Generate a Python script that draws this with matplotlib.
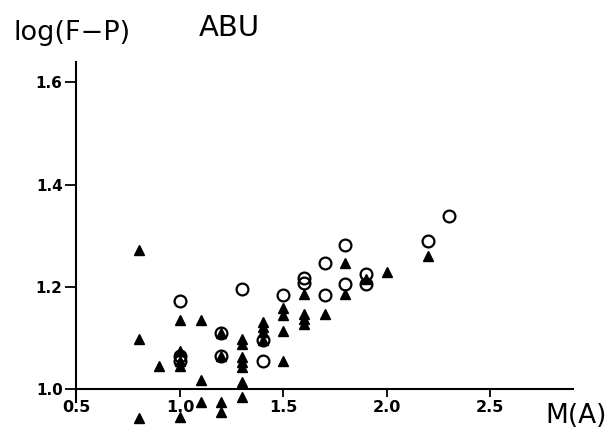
import matplotlib
matplotlib.use("Agg")
import matplotlib.pyplot as plt

# open circles
circ_m = [1.0, 1.0, 1.0, 1.2, 1.2, 1.3, 1.4, 1.4, 1.5, 1.6, 1.6, 1.7, 1.7, 1.8, 1.8, 1.9, 1.9, 2.2, 2.3]
circ_v = [1.172, 1.065, 1.055, 1.11, 1.065, 1.197, 1.096, 1.055, 1.184, 1.217, 1.208, 1.246, 1.184, 1.282, 1.205, 1.226, 1.205, 1.29, 1.339]

# filled triangles
tri_m = [0.8, 0.8, 0.8, 0.9, 1.0, 1.0, 1.0, 1.0, 1.0, 1.1, 1.1, 1.1, 1.2, 1.2, 1.2, 1.2,
         1.3, 1.3, 1.3, 1.3, 1.3, 1.3, 1.3, 1.4, 1.4, 1.4, 1.4, 1.5, 1.5, 1.5, 1.5,
         1.6, 1.6, 1.6, 1.6, 1.7, 1.8, 1.8, 1.9, 2.0, 2.2]
tri_v = [1.273, 1.099, 0.943, 1.045, 1.135, 1.075, 1.055, 1.045, 0.945, 1.135, 1.018, 0.975, 1.11, 1.065, 0.975, 0.956,
         1.099, 1.089, 1.063, 1.053, 1.044, 1.014, 0.985, 1.132, 1.122, 1.112, 1.096, 1.158, 1.145, 1.114, 1.055,
         1.186, 1.148, 1.138, 1.128, 1.148, 1.246, 1.186, 1.215, 1.23, 1.26]

xticks = [0.5, 1.0, 1.5, 2.0, 2.5]
xticklabels = ["0.5", "1.0", "1.5", "2.0", "2.5"]
yticks = [1.0, 1.2, 1.4, 1.6]
yticklabels = ["1.0", "1.2", "1.4", "1.6"]

fig = plt.figure(figsize=(6.09, 4.41), dpi=100)
ax = fig.add_axes([0.1256, 0.0363, 0.815, 0.823])

ax.plot(tri_m, tri_v, linestyle="none", marker="^", ms=6.5, color="black")
ax.plot(circ_m, circ_v, linestyle="none", marker="o", ms=8.5, mfc="none", mec="black", mew=1.6)

ax.set_xlim(0.5, 2.9)
ax.set_ylim(0.93, 1.64)
ax.spines["top"].set_visible(False)
ax.spines["right"].set_visible(False)
ax.spines["bottom"].set_position(("data", 1.0))
ax.spines["left"].set_bounds(0.975, 1.64)
ax.spines["bottom"].set_linewidth(1.5)
ax.spines["left"].set_linewidth(1.5)

ax.set_xticks(xticks)
ax.set_xticklabels(xticklabels, fontsize=11.5, fontweight="bold")
ax.set_yticks(yticks)
ax.set_yticklabels(yticklabels, fontsize=11, fontweight="bold")
ax.tick_params(axis="x", direction="out", length=6, width=1.3, pad=2)
ax.tick_params(axis="y", direction="out", length=8, width=1.3, pad=2)

fig.text(0.022, 0.925, "log(F\u2212P)", fontsize=19.5, ha="left", va="center", family="DejaVu Sans")
fig.text(0.376, 0.936, "ABU", fontsize=21, ha="center", va="center", family="DejaVu Sans")
fig.text(0.946, 0.057, "M(A)", fontsize=19, ha="center", va="center", family="DejaVu Sans")

fig.savefig("out.png", dpi=100)
